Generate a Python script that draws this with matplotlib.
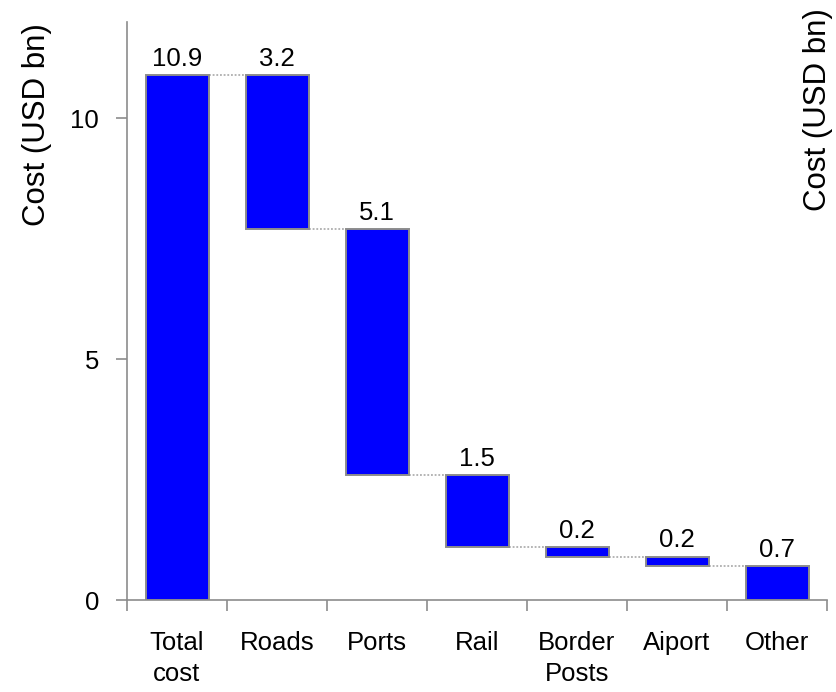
import matplotlib
matplotlib.use("Agg")
import matplotlib.pyplot as plt
import numpy as np

categories = ["Total\ncost", "Roads", "Ports", "Rail", "Border\nPosts", "Aiport", "Other"]
total_cost = 10.9
components = [3.2, 5.1, 1.5, 0.2, 0.2, 0.7]
value_labels = ["10.9", "3.2", "5.1", "1.5", "0.2", "0.2", "0.7"]

plt.rcParams["font.family"] = ["Liberation Sans", "DejaVu Sans"]

# Waterfall geometry: the total bar first, then each component hanging down
tops = [total_cost]
bottoms = [0.0]
level = total_cost
for v in components:
    tops.append(level)
    level = level - v
    bottoms.append(level)
bottoms[-1] = 0.0
heights = [t - b for t, b in zip(tops, bottoms)]

fig = plt.figure(figsize=(8.36, 6.92), dpi=100)
ax = fig.add_axes([127 / 836, 92 / 692, 700 / 836, 578 / 692])

x = np.arange(len(categories))
width = 0.63
ax.bar(x, heights, bottom=bottoms, width=width, color="#0000FF",
       edgecolor="#8c8c8c", linewidth=1.4, zorder=3)

# dotted connectors between consecutive bars
for i in range(len(categories) - 1):
    yl = bottoms[i] if i > 0 else tops[0]
    ax.plot([x[i] + width / 2, x[i + 1] - width / 2], [yl, yl],
            linestyle=(0, (1.2, 1.2)), color="#a0a0a0", linewidth=1.1, zorder=2)

for xi, t, lab in zip(x, tops, value_labels):
    ax.annotate(lab, (xi, t), xytext=(0, 3), textcoords="offset points",
                ha="center", va="bottom", fontsize=18.5)

ax.set_xlim(-0.5, len(categories) - 0.5)
ax.set_ylim(0, 12)
ax.set_yticks([0, 5, 10])
ax.set_yticklabels(["0", "5", "10"])

ax.set_xticks(x)
ax.set_xticklabels(categories, linespacing=1.4)
ax.set_xticks(np.arange(-0.5, len(categories)), minor=True)
ax.tick_params(axis="x", which="major", length=0, pad=22, labelsize=18.5)
ax.tick_params(axis="x", which="minor", length=8, width=1.2, color="#8c8c8c", direction="out")
ax.tick_params(axis="y", length=8, width=1.2, color="#8c8c8c", pad=12, labelsize=18.5)

for s in ["top", "right"]:
    ax.spines[s].set_visible(False)
for s in ["left", "bottom"]:
    ax.spines[s].set_color("#8c8c8c")
    ax.spines[s].set_linewidth(1.2)

fig.text(37 / 836, 1 - 125 / 692, "Cost (USD bn)", rotation=90,
         ha="center", va="center", fontsize=22.5)
fig.text(818 / 836, 1 - 110 / 692, "Cost (USD bn)", rotation=90,
         ha="center", va="center", fontsize=22.5)

fig.savefig("out.png", dpi=100)
